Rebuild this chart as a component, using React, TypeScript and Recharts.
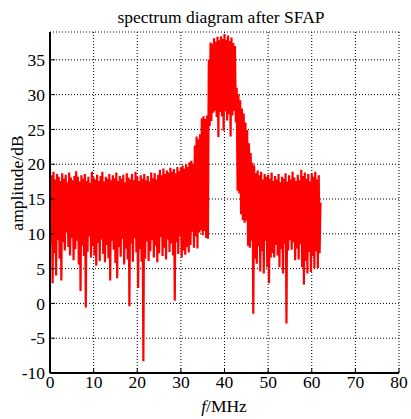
import React from 'react';
import { LineChart, Line, XAxis, YAxis, CartesianGrid } from 'recharts';

// sample spacing of the spectrum (MHz)
const SAMPLE_STEP = 0.2;

// amplitude (dB) per sample, split by frequency band
const band0to10 = [
  19.3, 8.5, 18.4, 2.9, 18.9, 7.2, 17.8, 4.0, 18.6, 9.1,
  18.2, 6.4, 17.6, 3.3, 18.7, 8.8, 17.9, 7.6, 18.5, 10.2,
  17.4, 8.1, 18.8, 6.9, 18.1, 9.4, 17.7, 6.2, 18.3, 7.8,
  19.0, 9.0, 18.2, 5.6, 17.5, 1.8, 18.4, 8.3, 17.9, 6.8,
  18.6, -0.6, 17.6, 7.4, 18.2, 9.6, 17.3, 6.6, 18.9, 8.2,
];
const band10to20 = [
  18.1, 6.9, 17.8, 5.4, 18.5, 8.7, 17.6, 6.1, 18.3, 9.2,
  18.9, 7.1, 17.5, 5.9, 18.2, 8.4, 17.9, 6.5, 18.6, 3.3,
  17.7, 9.0, 18.4, 7.7, 18.0, 5.8, 18.8, 3.6, 17.6, 8.1,
  18.3, 6.7, 17.9, 9.3, 18.5, 5.6, 17.4, 7.9, 18.7, 6.3,
  18.1, -0.4, 17.8, 8.6, 18.6, 6.0, 17.7, 9.4, 18.9, 7.3,
];
const band20to30 = [
  18.2, 2.2, 17.6, 7.8, 18.4, 6.0, 17.9, -8.3, 18.6, 6.4,
  17.7, 8.9, 18.3, 6.1, 17.5, 7.5, 18.8, 9.1, 18.0, 6.6,
  18.7, 8.3, 17.8, 5.9, 18.5, 7.2, 19.2, 9.5, 18.4, 6.8,
  19.4, 8.0, 18.6, 6.3, 19.1, 9.2, 18.8, 7.4, 19.5, 8.6,
  18.9, 6.9, 19.3, 0.4, 18.7, 8.8, 19.6, 7.1, 19.0, 9.7,
];
const band30to40 = [
  19.5, 6.6, 19.8, 7.6, 19.4, 7.0, 20.0, 8.1, 19.6, 7.3,
  20.3, 8.4, 20.5, 10.3, 20.1, 8.0, 22.7, 9.6, 24.0, 7.9,
  23.6, 10.2, 24.3, 10.5, 26.6, 9.8, 26.9, 10.4, 26.5, 9.4,
  27.0, 9.3, 35.0, 25.5, 37.5, 26.2, 37.3, 27.4, 38.1, 27.7,
  37.6, 26.8, 38.3, 23.9, 37.8, 27.5, 38.4, 26.9, 38.0, 24.8,
];
const band40to50 = [
  38.7, 27.6, 37.9, 26.3, 38.5, 27.2, 37.7, 24.0, 38.2, 27.0,
  37.4, 27.7, 37.0, 26.0, 31.0, 16.2, 30.0, 15.8, 29.2, 12.8,
  28.0, 12.0, 27.3, 11.6, 26.0, 11.9, 24.9, 8.3, 23.0, 8.0,
  21.6, 9.0, 20.2, -1.5, 19.8, 6.4, 18.7, 5.7, 19.1, 8.2,
  18.4, 4.6, 18.9, 7.5, 17.8, 4.3, 18.6, 9.0, 18.2, 5.2,
];
const band50to62 = [
  18.5, 2.9, 17.9, 6.6, 18.8, 7.2, 17.6, 6.6, 18.3, 8.4,
  17.8, 6.9, 18.6, 5.2, 17.4, 7.8, 18.2, 4.3, 17.9, 8.6,
  18.7, -2.9, 17.5, 7.6, 18.4, 9.1, 17.8, 7.7, 18.9, 8.8,
  18.1, 6.2, 17.6, 7.9, 18.5, 6.3, 17.7, 8.5, 19.2, 5.2,
  18.3, 2.7, 18.8, 6.1, 17.9, 4.3, 18.6, 7.4, 17.5, 4.5,
  18.7, 6.8, 18.2, 5.0, 18.9, 7.5, 17.8, 5.1, 18.4, 7.2,
  14.5,
];

const xTicks = [0, 10, 20, 30, 40, 50, 60, 70, 80];
const yTicks = [-10, -5, 0, 5, 10, 15, 20, 25, 30, 35];

const amplitude = [...band0to10, ...band10to20, ...band20to30, ...band30to40, ...band40to50, ...band50to62];
const data = amplitude.map((a, i) => ({ f: +(i * SAMPLE_STEP).toFixed(1), a }));

const font = 'Liberation Serif, Times New Roman, serif';
const tickStyle = { fontFamily: font, fontSize: 17.5, fill: '#000' };
const axisLine = { stroke: '#000', strokeWidth: 2 };
const tickLine = { stroke: '#000', strokeWidth: 1 };

export default function App() {
  return (
    <div style={{ position: 'absolute', left: 0, top: 0, width: 411, height: 419, background: '#fff' }}>
      <LineChart width={411} height={419} data={data} margin={{ top: 32, right: 12, bottom: 16, left: 0 }}>
        <CartesianGrid stroke="#000" strokeDasharray="1 2" strokeWidth={1} />
        <XAxis
          dataKey="f"
          type="number"
          domain={[0, 80]}
          ticks={xTicks}
          height={30}
          axisLine={axisLine}
          tickLine={tickLine}
          tickSize={-5}
          tickMargin={8}
          tick={tickStyle}
          allowDataOverflow
        />
        <XAxis
          xAxisId="top"
          orientation="top"
          dataKey="f"
          type="number"
          domain={[0, 80]}
          ticks={xTicks}
          height={0}
          axisLine={axisLine}
          tickLine={tickLine}
          tickSize={-5}
          tick={false}
        />
        <YAxis
          type="number"
          domain={[-10, 39]}
          ticks={yTicks}
          width={50}
          axisLine={axisLine}
          tickLine={tickLine}
          tickSize={-5}
          tickMargin={10}
          tick={tickStyle}
          allowDataOverflow
        />
        <YAxis
          yAxisId="right"
          orientation="right"
          type="number"
          domain={[-10, 39]}
          ticks={yTicks}
          width={0}
          axisLine={axisLine}
          tickLine={tickLine}
          tickSize={-5}
          tick={false}
        />
        <Line
          type="linear"
          dataKey="a"
          stroke="#ff0000"
          strokeWidth={2.2}
          dot={false}
          activeDot={false}
          isAnimationActive={false}
        />
      </LineChart>
      <svg width={411} height={419} style={{ position: 'absolute', left: 0, top: 0, pointerEvents: 'none' }}>
        <text x={221} y={23} textAnchor="middle" fontFamily={font} fontSize={17.5} fill="#000">
          spectrum diagram after SFAP
        </text>
        <text x={224} y={412} textAnchor="middle" fontFamily={font} fontSize={17.5} fill="#000">
          <tspan fontStyle="italic">f</tspan>/MHz
        </text>
        <text transform="translate(23,183) rotate(-90)" textAnchor="middle" fontFamily={font} fontSize={17.5} fill="#000">
          amplitude/dB
        </text>
      </svg>
    </div>
  );
}
